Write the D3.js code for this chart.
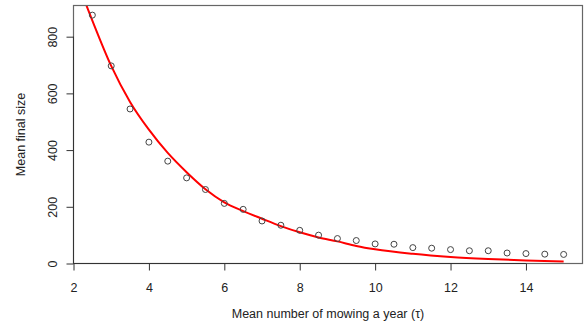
<!DOCTYPE html>
<html>
<head>
<meta charset="utf-8">
<script src="https://cdn.jsdelivr.net/npm/d3@7"></script>
<style>
  body { margin: 0; background: #fff; }
  svg { display: block; }
  text { font-family: "Liberation Sans", Arial, sans-serif; fill: #222; }
</style>
</head>
<body>
<svg id="chart" width="587" height="329"></svg>
<script>
// observed means (open circles)
const tau = [2.5, 3, 3.5, 4, 4.5, 5, 5.5, 6, 6.5, 7, 7.5, 8, 8.5, 9, 9.5,
  10, 10.5, 11, 11.5, 12, 12.5, 13, 13.5, 14, 14.5, 15];
const meanSize = [876, 697, 545, 428, 361, 302, 261, 212, 191, 150, 135, 117, 100, 88, 81,
  69, 68, 56, 54, 49, 45, 45, 37, 35, 33, 32];

// fitted curve
const fitTau = [2, 2.5, 3, 3.5, 4, 4.5, 5, 5.5, 6, 6.5, 7, 7.5, 8, 8.5, 9, 9.5, 10, 11, 12, 13, 14, 15];
const fitSize = [1030, 857, 697, 570, 472, 390, 322, 262, 216, 185, 158, 132, 110, 92, 78, 62, 50, 34, 23, 16, 11, 7];

const xTicks = [2, 4, 6, 8, 10, 12, 14];
const yTicks = [0, 200, 400, 600, 800];

const svg = d3.select('#chart');
const margin = { top: 5.5, right: 4.5, bottom: 65.5, left: 73.5 };
const width = +svg.attr('width');
const height = +svg.attr('height');
const innerWidth = width - margin.left - margin.right;
const innerHeight = height - margin.top - margin.bottom;

const x = d3.scaleLinear().domain([2, 15.5]).range([0, innerWidth]);
const y = d3.scaleLinear().domain([0, 910]).range([innerHeight, 0]);

const g = svg.append('g')
  .attr('transform', `translate(${margin.left},${margin.top})`);

// plot region, clips the fitted line at the top like R does
const plot = g.append('svg')
  .attr('width', innerWidth)
  .attr('height', innerHeight)
  .style('overflow', 'hidden');

const line = d3.line()
  .x((d, i) => x(fitTau[i]))
  .y(d => y(d))
  .curve(d3.curveMonotoneX);

plot.append('path')
  .datum(fitSize)
  .attr('d', line)
  .attr('fill', 'none')
  .attr('stroke', '#f00')
  .attr('stroke-width', 2);

// points
g.selectAll('circle')
  .data(meanSize)
  .enter()
  .append('circle')
  .attr('cx', (d, i) => x(tau[i]))
  .attr('cy', d => y(d))
  .attr('r', 3)
  .attr('fill', 'none')
  .attr('stroke', '#444')
  .attr('stroke-width', 1);

// frame
g.append('rect')
  .attr('width', innerWidth)
  .attr('height', innerHeight)
  .attr('fill', 'none')
  .attr('stroke', '#666')
  .attr('stroke-width', 1.2);

// axes
const xAxis = d3.axisBottom(x).tickValues(xTicks).tickSize(7).tickSizeOuter(0);
const yAxis = d3.axisLeft(y).tickValues(yTicks).tickSize(7).tickSizeOuter(0);

const gx = g.append('g')
  .attr('transform', `translate(0,${innerHeight})`)
  .call(xAxis);
gx.select('.domain').attr('d', `M${x(2)},0H${x(14)}`).attr('stroke', '#333');
gx.selectAll('.tick line').attr('stroke', '#333');
gx.selectAll('.tick text')
  .attr('font-size', 12.5)
  .attr('font-family', '"Liberation Sans", Arial, sans-serif')
  .attr('fill', '#222')
  .attr('dy', null)
  .attr('y', 28.5);

const gy = g.append('g').call(yAxis);
gy.select('.domain').attr('d', `M0,${y(0)}V${y(800)}`).attr('stroke', '#333');
gy.selectAll('.tick line').attr('stroke', '#333');
gy.selectAll('.tick text')
  .attr('font-size', 12.5)
  .attr('font-family', '"Liberation Sans", Arial, sans-serif')
  .attr('fill', '#222')
  .attr('x', null)
  .attr('dy', null)
  .attr('text-anchor', 'middle')
  .attr('transform', 'translate(-16.5,0) rotate(-90)');

// axis titles
svg.append('text')
  .attr('x', margin.left + innerWidth / 2)
  .attr('y', 317.5)
  .attr('text-anchor', 'middle')
  .attr('font-size', 12.5)
  .text('Mean number of mowing a year (τ)');

svg.append('text')
  .attr('transform', `translate(25,${margin.top + innerHeight / 2}) rotate(-90)`)
  .attr('text-anchor', 'middle')
  .attr('font-size', 12.5)
  .text('Mean final size');
</script>
</body>
</html>
